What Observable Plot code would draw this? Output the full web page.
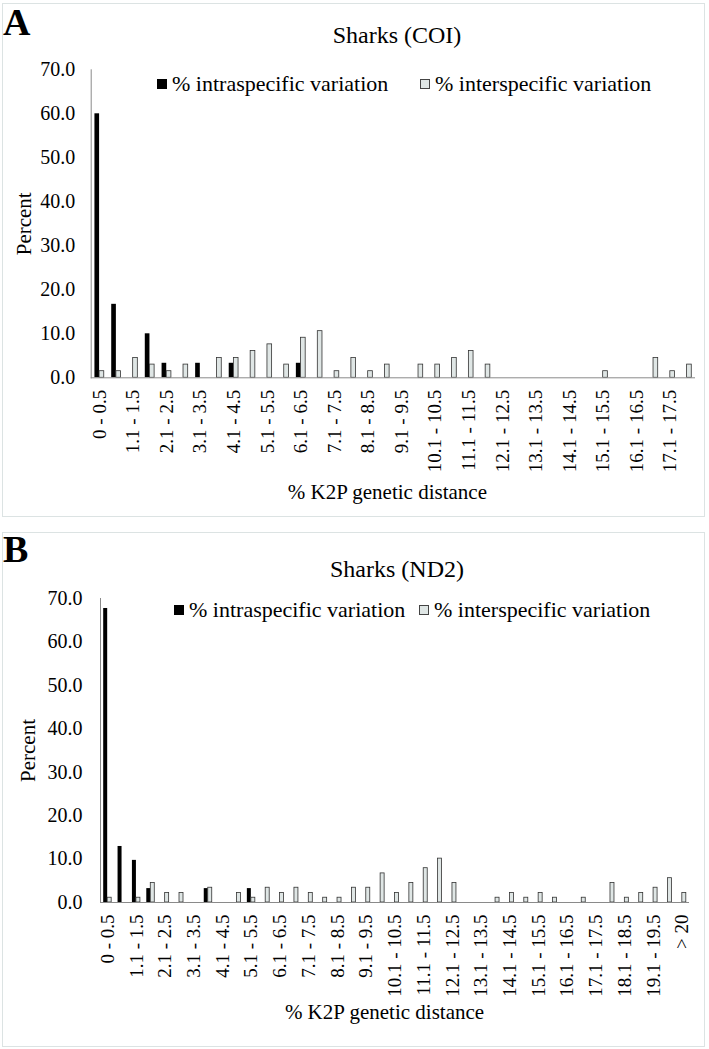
<!DOCTYPE html>
<html><head><meta charset="utf-8">
<script src="https://cdn.jsdelivr.net/npm/d3@7"></script>
<script src="https://cdn.jsdelivr.net/npm/@observablehq/plot@0.6"></script>
<style>
body{margin:0;background:#fff;font-family:"Liberation Serif","Times New Roman",serif;color:#000;}
.panel{position:absolute;left:2px;width:701px;border:1px solid #dce3e3;background:#fff;}
.panel svg{position:absolute;left:0;top:0;}
.letter{position:absolute;left:0;font-weight:bold;font-size:38px;line-height:1;}
.title{position:absolute;font-size:24px;line-height:1;white-space:nowrap;transform:translateX(-50%);}
.leg{position:absolute;font-size:22px;line-height:1;white-space:nowrap;}
.sw{display:inline-block;width:10px;height:10px;margin-right:5px;box-sizing:border-box;vertical-align:2px;}
</style></head><body>
<div id="A" class="panel" style="top:3px;height:512px"></div>
<div id="B" class="panel" style="top:532px;height:513px"></div>
<script>
const catsA = ["0 - 0.5","0.6 - 1.0","1.1 - 1.5","1.6 - 2.0","2.1 - 2.5","2.6 - 3.0","3.1 - 3.5","3.6 - 4.0","4.1 - 4.5","4.6 - 5.0","5.1 - 5.5","5.6 - 6.0","6.1 - 6.5","6.6 - 7.0","7.1 - 7.5","7.6 - 8.0","8.1 - 8.5","8.6 - 9.0","9.1 - 9.5","9.6 - 10.0","10.1 - 10.5","10.6 - 11.0","11.1 - 11.5","11.6 - 12.0","12.1 - 12.5","12.6 - 13.0","13.1 - 13.5","13.6 - 14.0","14.1 - 14.5","14.6 - 15.0","15.1 - 15.5","15.6 - 16.0","16.1 - 16.5","16.6 - 17.0","17.1 - 17.5","17.6 - 18.0"];
const intraA = [60.0,16.7,0,10.0,3.3,0,3.3,0,3.3,0,0,0,3.3,0,0,0,0,0,0,0,0,0,0,0,0,0,0,0,0,0,0,0,0,0,0,0];
const interA = [1.5,1.5,4.5,3.0,1.5,3.0,0,4.5,4.5,6.1,7.6,3.0,9.1,10.6,1.5,4.5,1.5,3.0,0,3.0,3.0,4.5,6.1,3.0,0,0,0,0,0,0,1.5,0,0,4.5,1.5,3.0];

const catsB = ["0 - 0.5","0.6 - 1.0","1.1 - 1.5","1.6 - 2.0","2.1 - 2.5","2.6 - 3.0","3.1 - 3.5","3.6 - 4.0","4.1 - 4.5","4.6 - 5.0","5.1 - 5.5","5.6 - 6.0","6.1 - 6.5","6.6 - 7.0","7.1 - 7.5","7.6 - 8.0","8.1 - 8.5","8.6 - 9.0","9.1 - 9.5","9.6 - 10.0","10.1 - 10.5","10.6 - 11.0","11.1 - 11.5","11.6 - 12.0","12.1 - 12.5","12.6 - 13.0","13.1 - 13.5","13.6 - 14.0","14.1 - 14.5","14.6 - 15.0","15.1 - 15.5","15.6 - 16.0","16.1 - 16.5","16.6 - 17.0","17.1 - 17.5","17.6 - 18.0","18.1 - 18.5","18.6 - 19.0","19.1 - 19.5","19.6 - 20.0","> 20"];
const intraB = [67.7,12.9,9.7,3.2,0,0,0,3.2,0,0,3.2,0,0,0,0,0,0,0,0,0,0,0,0,0,0,0,0,0,0,0,0,0,0,0,0,0,0,0,0,0,0];
const interB = [1.1,0,1.1,4.5,2.2,2.2,0,3.4,0,2.2,1.1,3.4,2.2,3.4,2.2,1.1,1.1,3.4,3.4,6.7,2.2,4.5,7.9,10.1,4.5,0,0,1.1,2.2,1.1,2.2,1.1,0,1.1,0,4.5,1.1,2.2,3.4,5.6,2.2];

const seriesNames = ["% intraspecific variation","% interspecific variation"];
const yTicks = [0,10,20,30,40,50,60,70];
const panelLetters = ["A","B"];
const panelTitles = ["Sharks (COI)","Sharks (ND2)"];
const xTitle = "% K2P genetic distance";
const yTitle = "Percent";

const FONT = '"Liberation Serif","Times New Roman",serif';

function chart(cats, intra, inter, o) {
  const rows = cats.flatMap((c, i) => [
    {cat: c, series: seriesNames[0], value: intra[i]},
    {cat: c, series: seriesNames[1], value: inter[i]}
  ]);
  const bw = (o.width - o.ml - o.mr) / cats.length;
  return Plot.plot({
    width: o.width, height: o.height,
    marginLeft: o.ml, marginRight: o.mr, marginTop: o.mt, marginBottom: o.mb,
    style: {fontFamily: FONT, fontSize: "20px", color: "#000", background: "transparent", overflow: "visible"},
    x: {type: "band", domain: cats, padding: 0, round: false, axis: null},
    y: {domain: [0, 70], axis: null},
    marks: [
      Plot.barY(rows.filter(d => d.series === seriesNames[0] && d.value > 0),
        {x: "cat", y: "value", fill: "#000", insetLeft: bw * 0.2222, insetRight: bw * 0.5}),
      Plot.barY(rows.filter(d => d.series === seriesNames[1] && d.value > 0),
        {x: "cat", y: "value", fill: "#dfe6e5", stroke: "#333", strokeWidth: 0.8, insetLeft: bw * 0.5, insetRight: bw * 0.2222}),
      Plot.ruleY([0], {stroke: "#8a8a8a"}),
      Plot.frame({anchor: "left", stroke: "#8a8a8a"}),
      Plot.axisY({ticks: yTicks, tickFormat: d => d.toFixed(1), tickSize: 0, tickPadding: o.ytp, label: null, fontSize: 20}),
      Plot.axisX({tickRotate: -90, tickSize: 0, tickPadding: 12, fontSize: 19, label: null,
        tickFormat: d => cats.indexOf(d) % 2 === 0 ? d : ""}),
      Plot.text([yTitle], {frameAnchor: "left", rotate: -90, dx: o.ylx, textAnchor: "middle", lineAnchor: "middle", fontSize: 21}),
      Plot.text([xTitle], {frameAnchor: "bottom", dx: o.xlx, dy: o.xly, textAnchor: "middle", lineAnchor: "middle", fontSize: 21})
    ]
  });
}

function decorate(el, idx, L) {
  const letter = document.createElement("div");
  letter.className = "letter"; letter.textContent = panelLetters[idx];
  letter.style.top = L.letterTop + "px";
  el.appendChild(letter);
  const t = document.createElement("div");
  t.className = "title"; t.textContent = panelTitles[idx];
  t.style.left = L.titleX + "px"; t.style.top = L.titleTop + "px";
  el.appendChild(t);
  [0, 1].forEach(k => {
    const item = document.createElement("div");
    item.className = "leg";
    item.style.left = L.legX[k] + "px"; item.style.top = L.legTop + "px";
    const sw = document.createElement("span");
    sw.className = "sw";
    if (k === 0) { sw.style.background = "#000"; }
    else { sw.style.background = "#dfe6e5"; sw.style.border = "1px solid #444"; }
    item.appendChild(sw);
    item.appendChild(document.createTextNode(seriesNames[k]));
    el.appendChild(item);
  });
}

const elA = document.getElementById("A");
elA.appendChild(chart(catsA, intraA, interA, {width: 701, height: 512, ml: 87.7, mr: 9, mt: 65.3, mb: 138.7, ytp: 16, ylx: -66.7, xlx: -6, xly: 114.4}));
decorate(elA, 0, {letterTop: -0.6, titleX: 394, titleTop: 18.5, legX: [154, 417], legTop: 69.3});

const elB = document.getElementById("B");
elB.appendChild(chart(catsB, intraB, interB, {width: 701, height: 513, ml: 97, mr: 15, mt: 65, mb: 144, ytp: 18, ylx: -72, xlx: -10.5, xly: 109.7}));
decorate(elB, 1, {letterTop: -2.9, titleX: 394, titleTop: 23.8, legX: [171, 416], legTop: 65.9});
</script>
</body></html>
